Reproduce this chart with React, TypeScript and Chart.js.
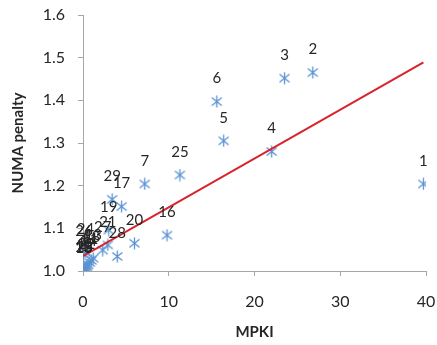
import React, { useEffect, useRef } from "react";
import { Chart, registerables } from "chart.js";

Chart.register(...registerables);

const pointLabels = ["1","2","3","4","5","6","7","8","9","10","11","12","13","14","15","16","17","18","19","20","21","22","23","24","25","26","27","28","29"];
const mpki = [39.7, 26.8, 23.5, 22.0, 16.4, 15.6, 7.2, 0.2, 0.5, 0.1, 0.8, 0.3, 1.2, 0.6, 0.05, 9.8, 4.5, 1.0, 3.0, 6.0, 2.9, 0.4, 0.15, 0.3, 11.3, 0.1, 2.3, 4.0, 3.4];
const penalty = [1.204, 1.465, 1.452, 1.28, 1.305, 1.397, 1.204, 1.005, 1.012, 1.0, 1.02, 1.008, 1.03, 1.015, 1.002, 1.084, 1.151, 1.025, 1.096, 1.065, 1.061, 1.01, 1.003, 1.045, 1.225, 1.04, 1.049, 1.034, 1.168];
const trendX = [0, 39.7];
const trendY = [1.035, 1.489];
const xTicks = [0, 10, 20, 30, 40];
const yTicks = [1.0, 1.1, 1.2, 1.3, 1.4, 1.5, 1.6];

const FONT = "Lato, 'Open Sans', sans-serif";
const MARKER = "#5A93D3";
const AXIS = "#A6A6A6";

const labelPlugin = {
  id: "pointLabels",
  afterDatasetsDraw(chart: any) {
    const meta = chart.getDatasetMeta(1);
    const ctx = chart.ctx;
    ctx.save();
    ctx.font = "15px " + FONT;
    ctx.fillStyle = "#262626";
    ctx.textAlign = "center";
    ctx.textBaseline = "middle";
    meta.data.forEach((el: any, i: number) => {
      ctx.fillText(pointLabels[i], el.x, el.y - 23);
    });
    ctx.restore();
  },
};

export default function App() {
  const ref = useRef<HTMLCanvasElement>(null);
  useEffect(() => {
    const mk = document.createElement("canvas");
    mk.width = 13;
    mk.height = 13;
    const m = mk.getContext("2d")!;
    m.strokeStyle = MARKER;
    m.lineWidth = 1.3;
    m.beginPath();
    m.moveTo(6.5, 0.5); m.lineTo(6.5, 12.5);
    m.moveTo(1.5, 2.5); m.lineTo(11.5, 10.5);
    m.moveTo(11.5, 2.5); m.lineTo(1.5, 10.5);
    m.stroke();

    const chart = new Chart(ref.current!, {
      type: "scatter",
      data: {
        datasets: [
          {
            type: "line",
            data: trendX.map((x, i) => ({ x, y: trendY[i] })),
            borderColor: "#D9232B",
            borderWidth: 2,
            pointRadius: 0,
            order: 0,
          } as any,
          {
            data: mpki.map((x, i) => ({ x, y: penalty[i] })),
            pointStyle: mk as any,
            pointRadius: 6,
            order: 1,
          },
        ],
      },
      plugins: [labelPlugin],
      options: {
        animation: false,
        responsive: true,
        maintainAspectRatio: false,
        layout: { padding: { left: 0, right: 11, top: 15, bottom: 0 } },
        plugins: { legend: { display: false }, tooltip: { enabled: false } },
        scales: {
          x: {
            type: "linear",
            min: 0,
            max: 40,
            afterBuildTicks: (s: any) => { s.ticks = xTicks.map((v) => ({ value: v })); },
            afterFit: (s: any) => { s.height = 74; s.paddingLeft = 0; s.paddingRight = 0; },
            grid: { drawOnChartArea: false, drawTicks: true, tickLength: 5, color: AXIS },
            border: { display: true, color: AXIS },
            ticks: { font: { family: FONT, size: 16 }, color: "#262626", padding: 16, maxRotation: 0 },
            title: { display: true, text: "MPKI", font: { family: FONT, size: 15, weight: "bold" }, color: "#262626", padding: { top: 13 } },
          },
          y: {
            type: "linear",
            min: 1.0,
            max: 1.6,
            afterBuildTicks: (s: any) => { s.ticks = yTicks.map((v) => ({ value: v })); },
            afterFit: (s: any) => { s.width = 83; s.paddingTop = 0; s.paddingBottom = 0; },
            grid: { drawOnChartArea: false, drawTicks: true, tickLength: 5, color: AXIS },
            border: { display: true, color: AXIS },
            ticks: { font: { family: FONT, size: 16 }, color: "#262626", padding: 13, callback: (v: any) => Number(v).toFixed(1) },
            title: { display: true, text: "NUMA penalty", font: { family: FONT, size: 15, weight: "bold" }, color: "#262626", padding: { bottom: 0, top: 9 } },
          },
        },
      },
    });
    return () => chart.destroy();
  }, []);
  return (
    <div style={{ position: "fixed", left: 0, top: 0, width: 437, height: 345, background: "#fff" }}>
      <canvas ref={ref} />
    </div>
  );
}
